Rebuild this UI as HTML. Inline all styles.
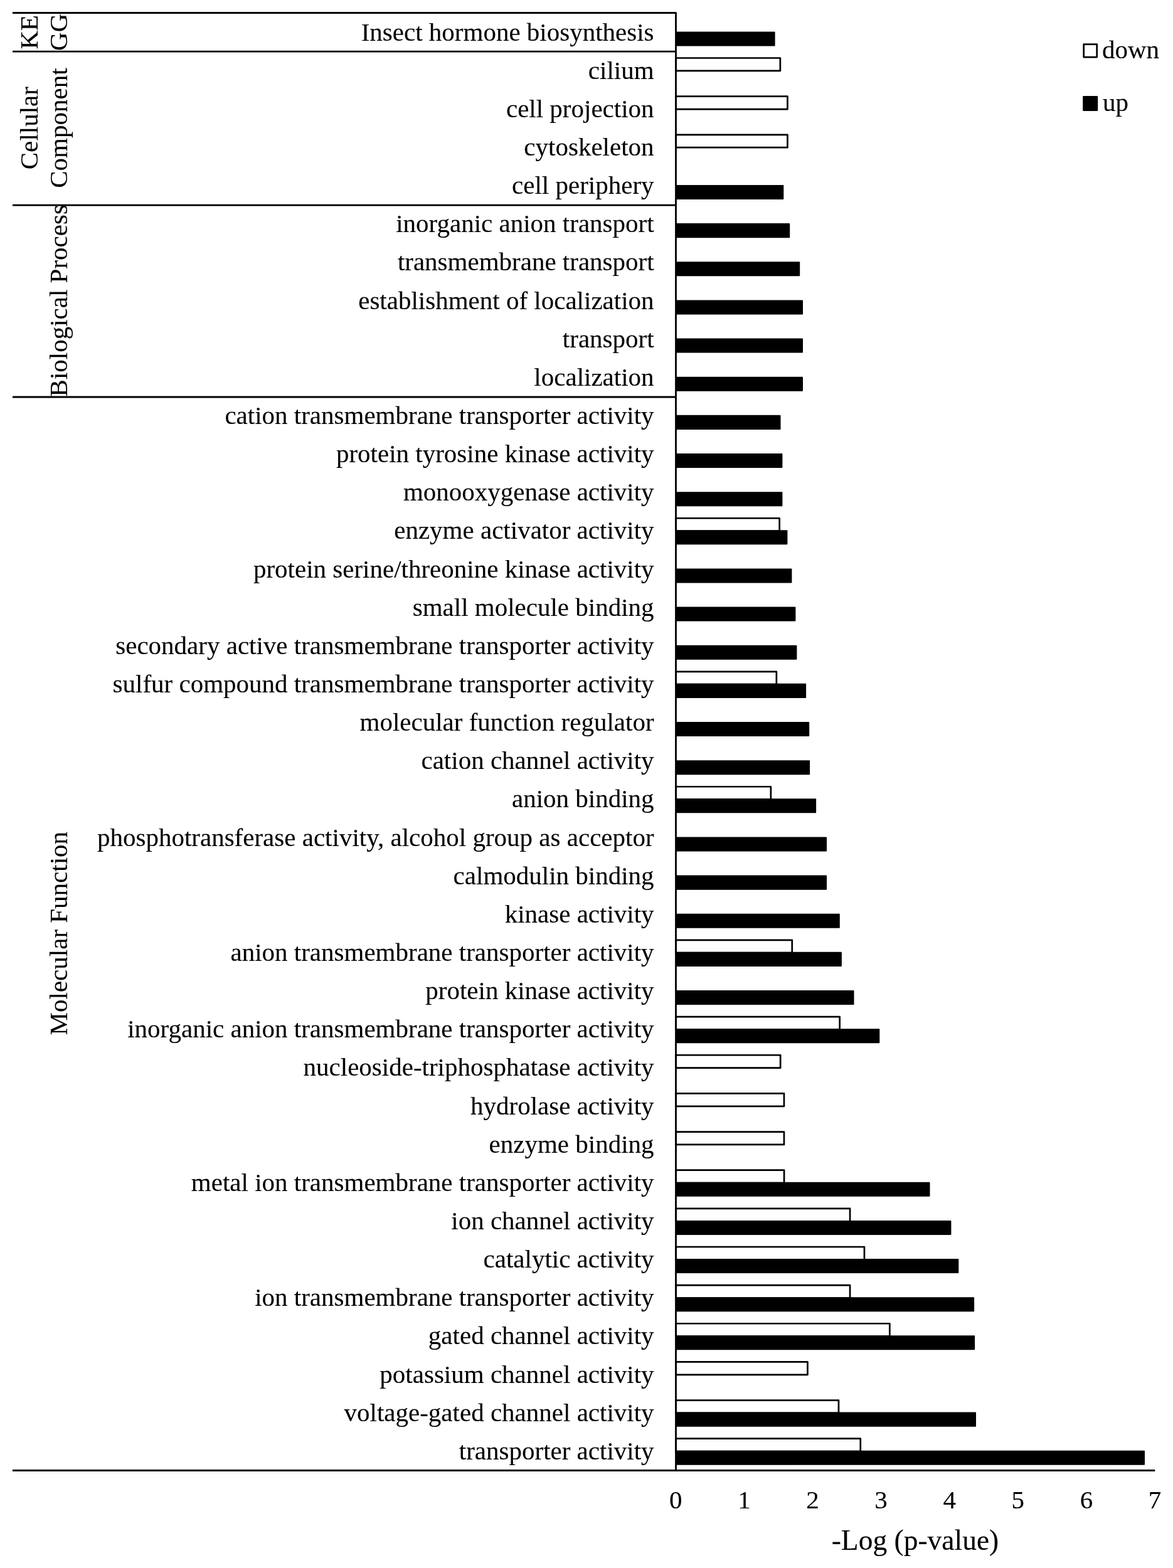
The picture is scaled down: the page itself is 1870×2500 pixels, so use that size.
<!DOCTYPE html>
<html lang="en"><head><meta charset="utf-8"><title>GO / KEGG enrichment</title>
<style>
html,body{margin:0;padding:0;background:#fff;}
body{width:1870px;height:2500px;overflow:hidden;}
svg{display:block;}
text{font-family:"Liberation Serif",serif;fill:#000;stroke:#000;stroke-width:0.12px;stroke-linejoin:round;}
.l{font-size:41px;text-anchor:end;}
.c{font-size:41px;text-anchor:middle;}
.t{font-size:41px;text-anchor:middle;}
.k{font-size:41px;text-anchor:start;}
.a{font-size:45.5px;text-anchor:middle;}
.d{fill:#fff;stroke:#000;stroke-width:2.7;stroke-linejoin:round;}
.u{fill:#000;stroke:none;}
.ln{stroke:#000;stroke-width:2.8;fill:none;stroke-linejoin:round;stroke-linecap:butt;}
</style></head><body>
<svg width="1870" height="2500" viewBox="0 0 1870 2500" role="img" aria-label="Enriched GO terms and KEGG pathways, -Log (p-value), down versus up">
<rect x="0" y="0" width="1870" height="2500" fill="#fff"/>
<g>
<rect class="u" x="1077.5" y="50.4" width="158.1" height="23.05" rx="1"/>
<rect class="d" x="1077.5" y="92.49" width="166.35" height="20.4"/>
<rect class="d" x="1077.5" y="153.64" width="177.95" height="20.4"/>
<rect class="d" x="1077.5" y="214.78" width="177.95" height="20.4"/>
<rect class="u" x="1077.5" y="294.98" width="171.8" height="23.05" rx="1"/>
<rect class="u" x="1077.5" y="356.12" width="181.7" height="23.05" rx="1"/>
<rect class="u" x="1077.5" y="417.27" width="197.7" height="23.05" rx="1"/>
<rect class="u" x="1077.5" y="478.41" width="202.5" height="23.05" rx="1"/>
<rect class="u" x="1077.5" y="539.56" width="202.5" height="23.05" rx="1"/>
<rect class="u" x="1077.5" y="600.7" width="202.5" height="23.05" rx="1"/>
<rect class="u" x="1077.5" y="661.85" width="167" height="23.05" rx="1"/>
<rect class="u" x="1077.5" y="722.99" width="169.9" height="23.05" rx="1"/>
<rect class="u" x="1077.5" y="784.14" width="169.9" height="23.05" rx="1"/>
<rect class="d" x="1077.5" y="826.23" width="165.15" height="20.4"/>
<rect class="u" x="1077.5" y="845.28" width="177.9" height="23.05" rx="1"/>
<rect class="u" x="1077.5" y="906.43" width="184.9" height="23.05" rx="1"/>
<rect class="u" x="1077.5" y="967.57" width="190.9" height="23.05" rx="1"/>
<rect class="u" x="1077.5" y="1028.72" width="192.9" height="23.05" rx="1"/>
<rect class="d" x="1077.5" y="1070.81" width="160.35" height="20.4"/>
<rect class="u" x="1077.5" y="1089.86" width="207.6" height="23.05" rx="1"/>
<rect class="u" x="1077.5" y="1151.01" width="212.7" height="23.05" rx="1"/>
<rect class="u" x="1077.5" y="1212.15" width="213.6" height="23.05" rx="1"/>
<rect class="d" x="1077.5" y="1254.24" width="151.35" height="20.4"/>
<rect class="u" x="1077.5" y="1273.29" width="223.6" height="23.05" rx="1"/>
<rect class="u" x="1077.5" y="1334.44" width="240.5" height="23.05" rx="1"/>
<rect class="u" x="1077.5" y="1395.58" width="240.5" height="23.05" rx="1"/>
<rect class="u" x="1077.5" y="1456.73" width="261.3" height="23.05" rx="1"/>
<rect class="d" x="1077.5" y="1498.82" width="185.25" height="20.4"/>
<rect class="u" x="1077.5" y="1517.87" width="264.4" height="23.05" rx="1"/>
<rect class="u" x="1077.5" y="1579.02" width="284" height="23.05" rx="1"/>
<rect class="d" x="1077.5" y="1621.11" width="261.15" height="20.4"/>
<rect class="u" x="1077.5" y="1640.16" width="324.8" height="23.05" rx="1"/>
<rect class="d" x="1077.5" y="1682.26" width="166.65" height="20.4"/>
<rect class="d" x="1077.5" y="1743.4" width="172.45" height="20.4"/>
<rect class="d" x="1077.5" y="1804.55" width="172.45" height="20.4"/>
<rect class="d" x="1077.5" y="1865.69" width="172.55" height="20.4"/>
<rect class="u" x="1077.5" y="1884.74" width="405" height="23.05" rx="1"/>
<rect class="d" x="1077.5" y="1926.84" width="277.55" height="20.4"/>
<rect class="u" x="1077.5" y="1945.89" width="438.9" height="23.05" rx="1"/>
<rect class="d" x="1077.5" y="1987.98" width="300.45" height="20.4"/>
<rect class="u" x="1077.5" y="2007.03" width="450.8" height="23.05" rx="1"/>
<rect class="d" x="1077.5" y="2049.13" width="277.55" height="20.4"/>
<rect class="u" x="1077.5" y="2068.18" width="475.6" height="23.05" rx="1"/>
<rect class="d" x="1077.5" y="2110.27" width="340.85" height="20.4"/>
<rect class="u" x="1077.5" y="2129.32" width="476.6" height="23.05" rx="1"/>
<rect class="d" x="1077.5" y="2171.42" width="209.95" height="20.4"/>
<rect class="d" x="1077.5" y="2232.56" width="259.45" height="20.4"/>
<rect class="u" x="1077.5" y="2251.61" width="478.5" height="23.05" rx="1"/>
<rect class="d" x="1077.5" y="2293.71" width="294.25" height="20.4"/>
<rect class="u" x="1077.5" y="2312.76" width="747.5" height="23.05" rx="1"/>
</g>
<g class="ln">
<polyline points="20,20.5 1077.5,20.5 1077.5,2344"/>
<line x1="20" y1="82.1" x2="1077.5" y2="82.1"/>
<line x1="20" y1="327.2" x2="1077.5" y2="327.2"/>
<line x1="20" y1="633" x2="1077.5" y2="633"/>
<line x1="20" y1="2344.5" x2="1841.2" y2="2344.5"/>
</g>
<g class="l">
<text x="1042.6" y="64.57">Insect hormone biosynthesis</text>
<text x="1042.6" y="125.72">cilium</text>
<text x="1042.6" y="186.86">cell projection</text>
<text x="1042.6" y="248.01">cytoskeleton</text>
<text x="1042.6" y="309.15">cell periphery</text>
<text x="1042.6" y="370.3">inorganic anion transport</text>
<text x="1042.6" y="431.44">transmembrane transport</text>
<text x="1042.6" y="492.59">establishment of localization</text>
<text x="1042.6" y="553.73">transport</text>
<text x="1042.6" y="614.88">localization</text>
<text x="1042.6" y="676.02">cation transmembrane transporter activity</text>
<text x="1042.6" y="737.16">protein tyrosine kinase activity</text>
<text x="1042.6" y="798.31">monooxygenase activity</text>
<text x="1042.6" y="859.45">enzyme activator activity</text>
<text x="1042.6" y="920.6">protein serine/threonine kinase activity</text>
<text x="1042.6" y="981.74">small molecule binding</text>
<text x="1042.6" y="1042.89">secondary active transmembrane transporter activity</text>
<text x="1042.6" y="1104.03">sulfur compound transmembrane transporter activity</text>
<text x="1042.6" y="1165.18">molecular function regulator</text>
<text x="1042.6" y="1226.32">cation channel activity</text>
<text x="1042.6" y="1287.47">anion binding</text>
<text x="1042.6" y="1348.61">phosphotransferase activity, alcohol group as acceptor</text>
<text x="1042.6" y="1409.76">calmodulin binding</text>
<text x="1042.6" y="1470.9">kinase activity</text>
<text x="1042.6" y="1532.05">anion transmembrane transporter activity</text>
<text x="1042.6" y="1593.19">protein kinase activity</text>
<text x="1042.6" y="1654.34">inorganic anion transmembrane transporter activity</text>
<text x="1042.6" y="1715.48">nucleoside-triphosphatase activity</text>
<text x="1042.6" y="1776.62">hydrolase activity</text>
<text x="1042.6" y="1837.77">enzyme binding</text>
<text x="1042.6" y="1898.91">metal ion transmembrane transporter activity</text>
<text x="1042.6" y="1960.06">ion channel activity</text>
<text x="1042.6" y="2021.2">catalytic activity</text>
<text x="1042.6" y="2082.35">ion transmembrane transporter activity</text>
<text x="1042.6" y="2143.49">gated channel activity</text>
<text x="1042.6" y="2204.64">potassium channel activity</text>
<text x="1042.6" y="2265.78">voltage-gated channel activity</text>
<text x="1042.6" y="2326.93">transporter activity</text>
</g>
<g>
<text class="c" transform="translate(60.2 51.27) rotate(-90)">KE</text>
<text class="c" transform="translate(107.3 51.27) rotate(-90)">GG</text>
<text class="c" transform="translate(60.2 204.13) rotate(-90)">Cellular</text>
<text class="c" transform="translate(107.3 204.13) rotate(-90)">Component</text>
<text class="c" transform="translate(107.3 479.29) rotate(-90)">Biological Process</text>
<text class="c" transform="translate(107.3 1488.17) rotate(-90)">Molecular Function</text>
</g>
<g class="t">
<text x="1077.3" y="2405.2">0</text>
<text x="1186.4" y="2405.2">1</text>
<text x="1295.5" y="2405.2">2</text>
<text x="1404.6" y="2405.2">3</text>
<text x="1513.7" y="2405.2">4</text>
<text x="1622.8" y="2405.2">5</text>
<text x="1731.9" y="2405.2">6</text>
<text x="1841" y="2405.2">7</text>
</g>
<text class="a" x="1459" y="2470.9">-Log (p-value)</text>
<g>
<rect class="d" x="1727.7" y="70.6" width="21" height="20.5"/>
<rect class="u" x="1726.2" y="153" width="24" height="24" rx="1"/>
<text class="k" x="1757" y="93.4">down</text>
<text class="k" x="1758" y="177.1">up</text>
</g>
</svg>
</body></html>
